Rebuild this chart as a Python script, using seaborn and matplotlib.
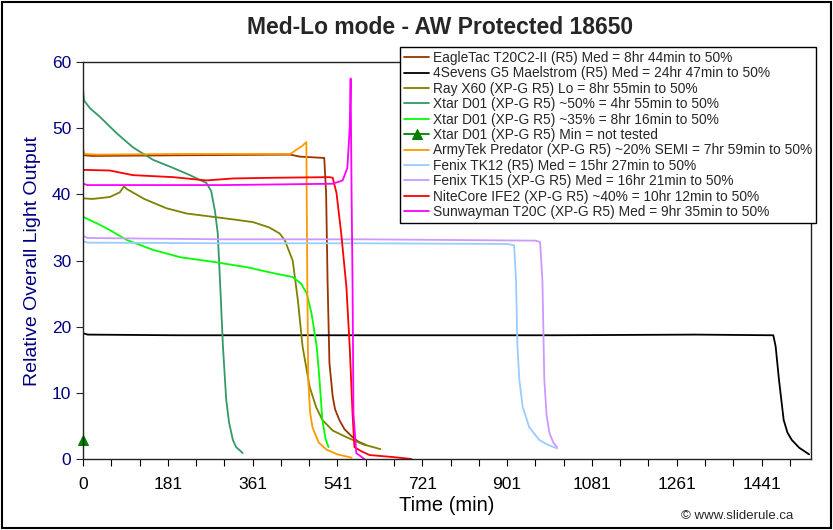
import matplotlib
matplotlib.use('Agg')
import matplotlib.pyplot as plt
from matplotlib.patches import Rectangle
import pandas as pd
import seaborn as sns

# runtime data (time in min, relative light output)
eagletac_t = [0, 3, 20, 200, 440, 460, 512, 516, 519, 523, 530, 535, 544, 555, 572, 585, 601]
eagletac_y = [46.3, 45.9, 45.8, 45.9, 46.0, 45.7, 45.5, 40, 27, 14.5, 9.4, 7.5, 5.9, 4.5, 3.3, 2.6, 2.1]

foursevens_t = [0, 10, 200, 600, 1000, 1300, 1465, 1470, 1477, 1487, 1495, 1504, 1520, 1541]
foursevens_y = [19.0, 18.8, 18.7, 18.7, 18.7, 18.8, 18.7, 17.0, 12, 5.9, 4.0, 2.9, 1.7, 0.7]

ray_t = [0, 20, 57, 78, 87, 93, 130, 177, 220, 276, 320, 361, 395, 417, 428, 445, 456,
         466, 481, 495, 508, 530, 559, 595, 631]
ray_y = [39.4, 39.3, 39.6, 40.3, 41.2, 40.8, 39.3, 37.9, 37.1, 36.6, 36.2, 35.8, 35.0, 34.1,
         33.1, 30, 24, 17, 10.9, 7.8, 5.9, 4.3, 3.3, 2.2, 1.5]

xtar50_t = [0, 2, 15, 36, 72, 106, 149, 191, 227, 262, 272, 280, 286, 292, 297, 304, 310,
            318, 325, 339]
xtar50_y = [56, 54.2, 53.0, 51.7, 49.2, 47.1, 45.2, 44, 42.9, 41.7, 40.5, 37.5, 34.1, 25, 17,
            8.9, 5.5, 2.9, 1.8, 0.9]

xtar35_t = [0, 30, 57, 93, 149, 206, 276, 347, 403, 445, 463, 475, 485, 496, 502, 508, 515, 521]
xtar35_y = [36.6, 35.6, 34.6, 33.1, 31.6, 30.5, 29.8, 29.0, 28.1, 27.5, 26.5, 25, 22, 17, 11.9,
            5.9, 3.0, 1.8]

xtarmin_t = [0]
xtarmin_y = [2.8]

armytek_t = [0, 3, 30, 200, 440, 450, 465, 474, 476, 478, 482, 487, 500, 517, 540, 570]
armytek_y = [46.8, 46.1, 46.0, 46.1, 46.1, 46.6, 47.3, 47.9, 27, 12, 7.0, 4.8, 2.5, 1.4, 0.7, 0.2]

tk12_t = [0, 10, 300, 600, 900, 915, 919, 922, 926, 933, 947, 968, 985, 1006]
tk12_y = [32.9, 32.7, 32.6, 32.6, 32.5, 32.3, 27, 17, 12, 7.9, 4.8, 2.9, 2.2, 1.6]

tk15_t = [0, 10, 300, 600, 960, 970, 975, 979, 984, 990, 998, 1006]
tk15_y = [33.7, 33.4, 33.2, 33.2, 33.0, 32.8, 27, 12, 6.5, 3.9, 2.5, 1.8]

nitecore_t = [0, 57, 106, 191, 262, 318, 400, 523, 530, 538, 548, 559, 566, 572, 576, 590,
              608, 657, 697]
nitecore_y = [43.7, 43.6, 42.9, 42.6, 42.1, 42.4, 42.5, 42.6, 42.5, 40.2, 34.1, 26, 17, 6.9,
              1.8, 1.2, 0.6, 0.3, 0.0]

sunwayman_t = [0, 10, 300, 530, 551, 561, 566, 568, 570, 572, 574, 580, 597]
sunwayman_y = [41.6, 41.4, 41.4, 41.6, 42.1, 44, 50, 57.5, 40, 27, 6.9, 0.9, 0.0]

labels = [
    'EagleTac T20C2-II (R5) Med = 8hr 44min to 50%',
    '4Sevens G5 Maelstrom (R5) Med = 24hr 47min to 50%',
    'Ray X60 (XP-G R5) Lo = 8hr 55min to 50%',
    'Xtar D01 (XP-G R5) ~50% = 4hr 55min to 50%',
    'Xtar D01 (XP-G R5) ~35% = 8hr 16min to 50%',
    'Xtar D01 (XP-G R5) Min = not tested',
    'ArmyTek Predator (XP-G R5) ~20% SEMI = 7hr 59min to 50%',
    'Fenix TK12 (R5) Med = 15hr 27min to 50%',
    'Fenix TK15 (XP-G R5) Med = 16hr 21min to 50%',
    'NiteCore IFE2 (XP-G R5) ~40% = 10hr 12min to 50%',
    'Sunwayman T20C (XP-G R5) Med = 9hr 35min to 50%',
]
series = [(eagletac_t, eagletac_y), (foursevens_t, foursevens_y), (ray_t, ray_y),
          (xtar50_t, xtar50_y), (xtar35_t, xtar35_y), (xtarmin_t, xtarmin_y),
          (armytek_t, armytek_y), (tk12_t, tk12_y), (tk15_t, tk15_y),
          (nitecore_t, nitecore_y), (sunwayman_t, sunwayman_y)]
colors = ['#993300', '#000000', '#808000', '#339966', '#00FF00', '#008000',
          '#FF9900', '#99CCFF', '#CC99FF', '#FF0000', '#FF00FF']

sns.set_style('ticks')
plt.rcParams['font.family'] = ['Liberation Sans', 'DejaVu Sans']

fig = plt.figure(figsize=(8.33, 5.30), dpi=100)
ax = fig.add_axes([83/833, 1 - 459/530, (811 - 83)/833, (459 - 62)/530])

for (t, y), lab, c in zip(series, labels, colors):
    df = pd.DataFrame({'Time (min)': t, 'Output': y})
    if len(t) == 1:
        sns.lineplot(data=df, x='Time (min)', y='Output', ax=ax, color=c, label=lab,
                     marker='^', markersize=7, markeredgecolor=c, linewidth=1.3, clip_on=False)
    else:
        sns.lineplot(data=df, x='Time (min)', y='Output', ax=ax, color=c, label=lab,
                     linewidth=1.3, sort=False, estimator=None)

ax.set_xlim(0, 1545)
ax.set_ylim(0, 60)
xt = list(range(0, 1545, 60))
ax.set_xticks(xt)
ax.set_xticklabels([str(v + 1) if (v % 180 == 0 and v > 0) else ('0' if v == 0 else '') for v in xt])
ax.set_yticks(range(0, 61, 10))
ax.tick_params(axis='x', colors='black', labelsize=12.5, length=5, direction='out', pad=8)
ax.tick_params(axis='y', labelcolor='#000080', labelsize=12.5, length=5, direction='out')
for sp in ax.spines.values():
    sp.set_color('#222222')
    sp.set_linewidth(1.0)

ax.set_xlabel('Time (min)', fontsize=14.5, color='black', labelpad=3)
ax.set_ylabel('Relative Overall Light Output', fontsize=14, color='#000080', labelpad=8)

fig.text(0.528, 0.949, 'Med-Lo mode - AW Protected 18650', fontsize=16.5, fontweight='bold',
         ha='center', va='center')
fig.text(793/833, 1 - 516/530, '\u00a9 www.sliderule.ca', fontsize=9.5, ha='right', va='center')

handles, labs = ax.get_legend_handles_labels()
if ax.get_legend() is not None:
    ax.get_legend().remove()
leg = fig.legend(handles, labs, loc='upper left', bbox_to_anchor=(400/833, 1 - 47/530),
                 fontsize=9.9, frameon=True, fancybox=False, framealpha=1, edgecolor='black',
                 borderpad=0.3, labelspacing=0.1, handlelength=1.8, handletextpad=0.3,
                 borderaxespad=0)
leg.get_frame().set_linewidth(1.0)

fig.patches.append(Rectangle((0.002, 0.004), 0.995, 0.993, transform=fig.transFigure,
                             fill=False, edgecolor='black', linewidth=1.5))

fig.savefig('out.png', dpi=100)
